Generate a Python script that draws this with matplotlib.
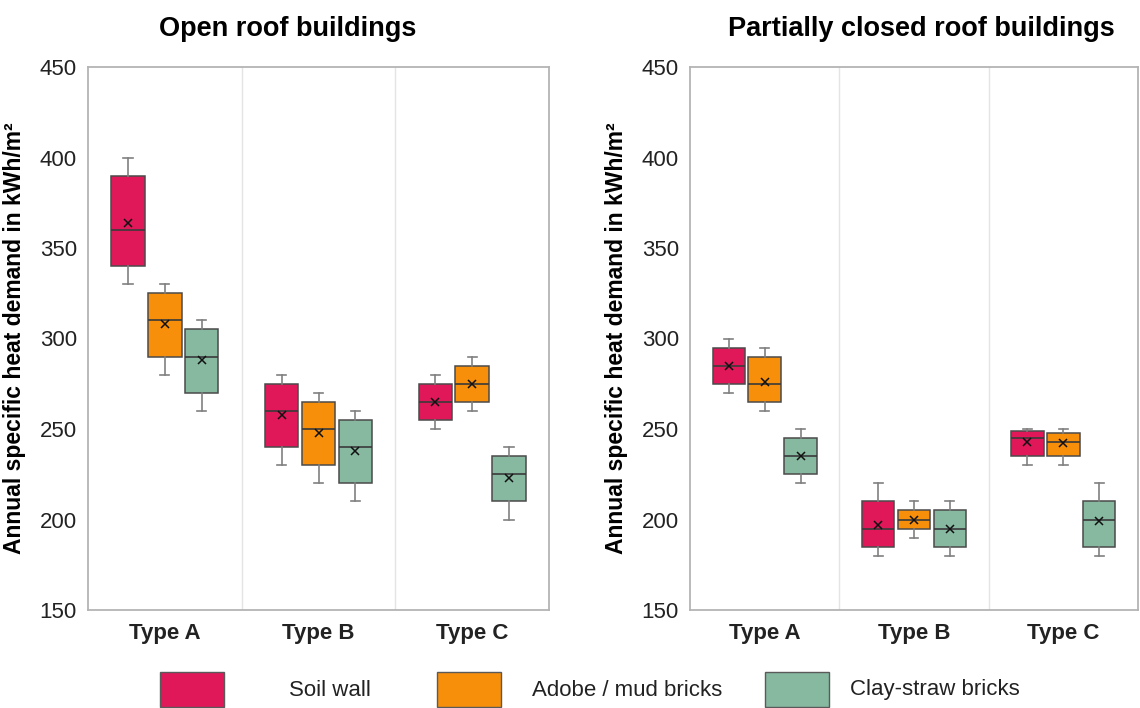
import matplotlib
matplotlib.use("Agg")
import matplotlib.pyplot as plt
from matplotlib.patches import Rectangle

plt.rcParams["font.family"] = ["Liberation Sans", "DejaVu Sans"]

categories = ["Type A", "Type B", "Type C"]
materials = ["Soil wall", "Adobe / mud bricks", "Clay-straw bricks"]
colors = ["#E0185A", "#F78F0A", "#86B9A0"]
panel_titles = ["Open roof buildings", "Partially closed roof buildings"]

# Five-number summaries (whislo, q1, median, q3, whishi) and means,
# one row per material, one entry per building type.
open_soil = [(330, 340, 360, 390, 400), (230, 240, 260, 275, 280), (250, 255, 265, 275, 280)]
open_adobe = [(280, 290, 310, 325, 330), (220, 230, 250, 265, 270), (260, 265, 275, 285, 290)]
open_clay = [(260, 270, 290, 305, 310), (210, 220, 240, 255, 260), (200, 210, 225, 235, 240)]
open_soil_mean = [364, 258, 265]
open_adobe_mean = [308, 248, 275]
open_clay_mean = [288, 238, 223]

closed_soil = [(270, 275, 285, 295, 300), (180, 185, 195, 210, 220), (230, 235, 245, 249, 250)]
closed_adobe = [(260, 265, 275, 290, 295), (190, 195, 200, 205, 210), (230, 235, 243, 248, 250)]
closed_clay = [(220, 225, 235, 245, 250), (180, 185, 195, 205, 210), (180, 185, 200, 210, 220)]
closed_soil_mean = [285, 197, 243]
closed_adobe_mean = [276, 200, 242]
closed_clay_mean = [235, 195, 199]

panels = [
    ([open_soil, open_adobe, open_clay], [open_soil_mean, open_adobe_mean, open_clay_mean]),
    ([closed_soil, closed_adobe, closed_clay], [closed_soil_mean, closed_adobe_mean, closed_clay_mean]),
]

W, H = 1140, 708
fig = plt.figure(figsize=(W / 100, H / 100), dpi=100)

axes_px = [(88, 67, 549, 610), (690, 67, 1138, 610)]
title_x = [0.433, 0.516]
offset = 0.24
box_w = 0.218

for (x0, y0, x1, y1), title, tx_, (stats, means) in zip(axes_px, panel_titles, title_x, panels):
    ax = fig.add_axes([x0 / W, (H - y1) / H, (x1 - x0) / W, (y1 - y0) / H])
    for m, (mat_stats, mat_means, col) in enumerate(zip(stats, means, colors)):
        bxp_stats = []
        for (lo, q1, med, q3, hi), mean in zip(mat_stats, mat_means):
            bxp_stats.append(dict(whislo=lo, q1=q1, med=med, q3=q3, whishi=hi,
                                  mean=mean, fliers=[]))
        pos = [i + (m - 1) * offset for i in range(len(categories))]
        ax.bxp(bxp_stats, positions=pos, widths=box_w, patch_artist=True,
               showmeans=True, showfliers=False, capwidths=0.06,
               boxprops=dict(facecolor=col, edgecolor="#4a4a4a", linewidth=1.1),
               medianprops=dict(color="#3a3a3a", linewidth=1.2),
               whiskerprops=dict(color="#808080", linewidth=1.2),
               capprops=dict(color="#808080", linewidth=1.2),
               meanprops=dict(marker="x", markeredgecolor="#111111",
                              markersize=6, markeredgewidth=1.1))
    for b in (0.5, 1.5):
        ax.axvline(b, color="#e4e4e4", linewidth=1.0, zorder=0)
    ax.set_xlim(-0.5, 2.5)
    ax.set_ylim(150, 450)
    ax.set_yticks(range(150, 451, 50))
    ax.set_xticks(range(len(categories)))
    ax.set_xticklabels(categories, fontsize=15.5, fontweight="bold")
    ax.tick_params(axis="both", length=0, labelsize=16, labelcolor="#222222")
    ax.tick_params(axis="y", pad=8)
    ax.tick_params(axis="x", pad=9)
    for lbl in ax.get_xticklabels():
        lbl.set_fontweight("bold")
    for s in ax.spines.values():
        s.set_color("#b4b4b4")
        s.set_linewidth(1.3)
    ax.set_ylabel("Annual specific heat demand in kWh/m²", fontsize=16.5,
                  fontweight="bold", labelpad=10)
    ax.set_title(title, fontsize=19.5, fontweight="bold", pad=22, x=tx_)

# Legend row at the bottom
leg_items = [(160, 289), (437, 532), (765, 850)]
for (px, tx), col, name in zip(leg_items, colors, materials):
    fig.patches.append(Rectangle((px / W, (H - 707) / H), 64 / W, 35 / H,
                                 transform=fig.transFigure, facecolor=col,
                                 edgecolor="#5a5a5a", linewidth=1.0))
    fig.text(tx / W, (H - 690) / H, name, fontsize=16, color="#222222",
             va="center", ha="left")

fig.savefig("out.png", dpi=100)
